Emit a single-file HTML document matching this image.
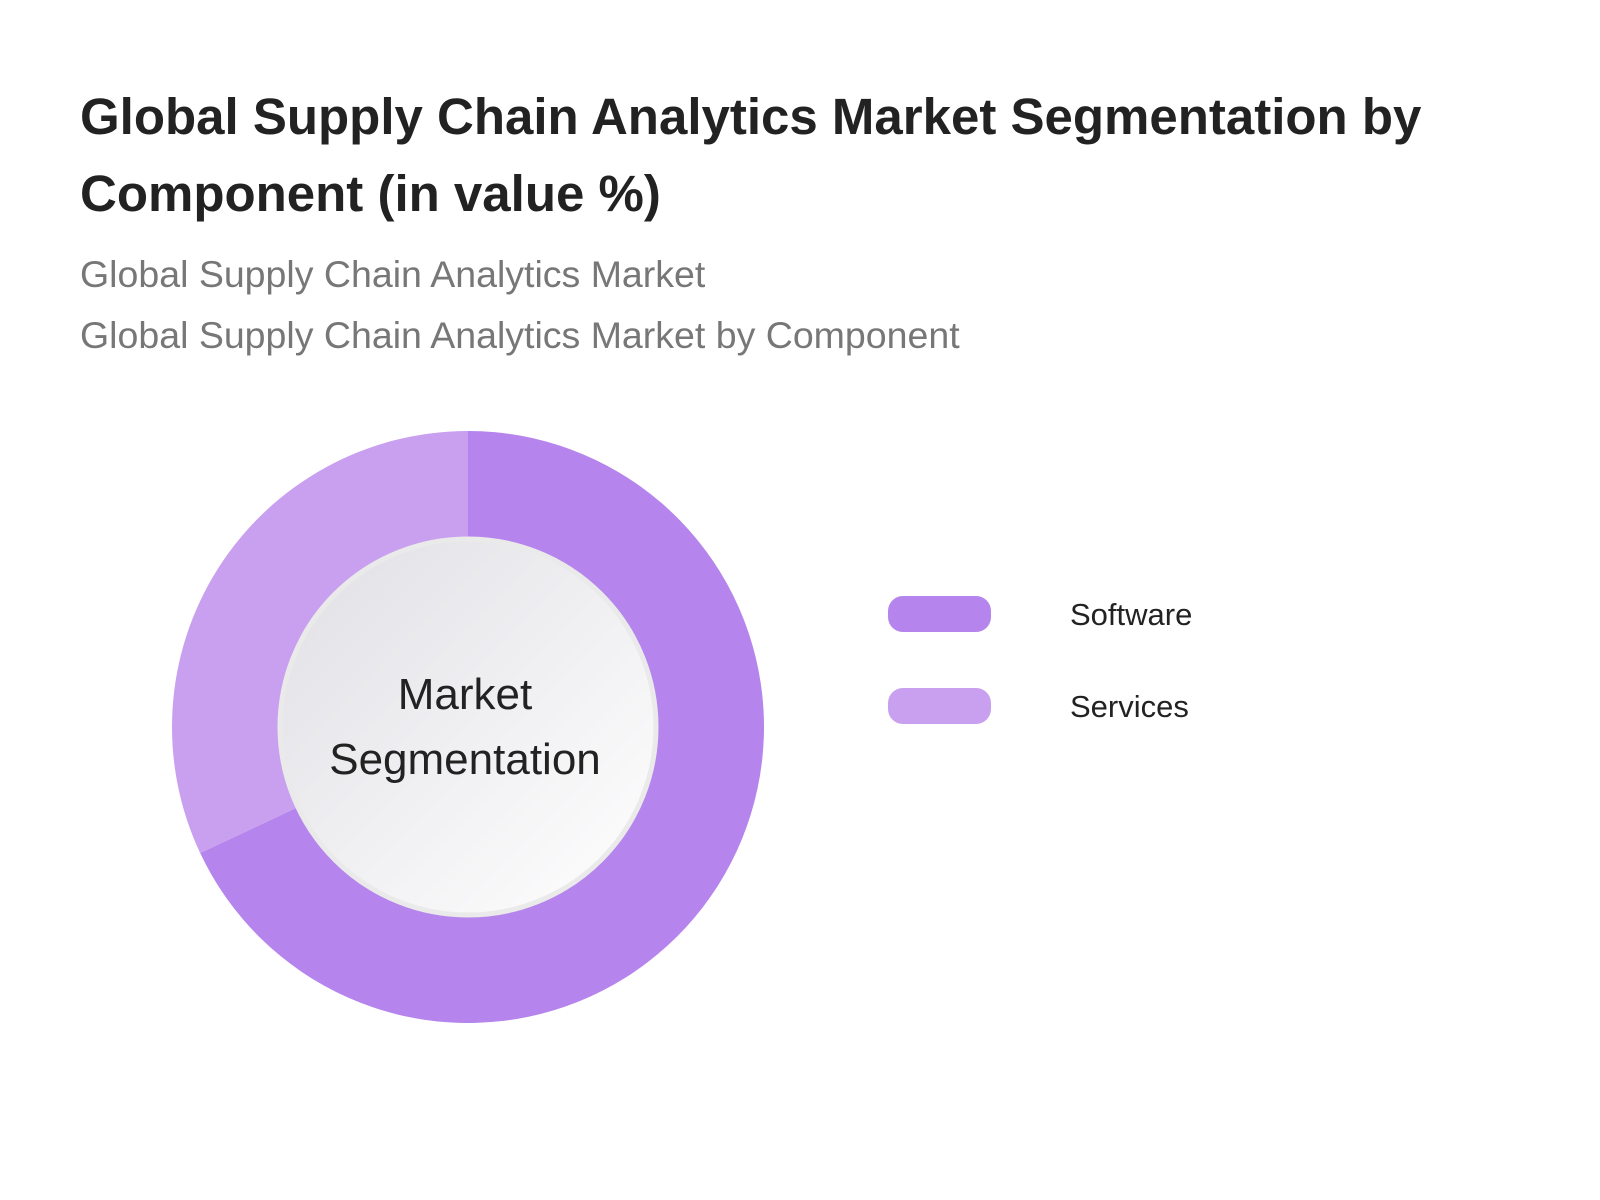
<!DOCTYPE html>
<html><head><meta charset="utf-8"><style>
body{margin:0;width:1600px;height:1200px;background:#fff;font-family:"Liberation Sans",sans-serif;overflow:hidden}
.t{position:absolute;left:80px;top:78px;width:1450px;font-size:51px;font-weight:bold;color:#222;line-height:77px}
.s{position:absolute;left:80px;font-size:37.5px;color:#777}
</style></head><body>
<div class="t">Global Supply Chain Analytics Market Segmentation by Component (in value %)</div>
<div class="s" style="top:253px">Global Supply Chain Analytics Market</div>
<div class="s" style="top:314px">Global Supply Chain Analytics Market by Component</div>
<svg id="c" width="1600" height="1200" style="position:absolute;left:0;top:0">
<defs><linearGradient id="g" x1="0" y1="0" x2="1" y2="1"><stop offset="0" stop-color="#e0dfe4"/><stop offset="1" stop-color="#ffffff"/></linearGradient></defs>
</svg>
<script>
const categories=["Software","Services"];
const values=[68,32];
const colors=["#b584ec","#c9a0ef"];
const svg=document.getElementById('c');const NS='http://www.w3.org/2000/svg';
const cx=468,cy=727,R=296,ri=188;
const total=values.reduce((a,b)=>a+b,0);
function pt(a,r){return [cx+r*Math.sin(a),cy-r*Math.cos(a)];}
let a0=0;
values.forEach((v,i)=>{
 const a1=a0+v/total*2*Math.PI;const p0=pt(a0,R),p1=pt(a1,R);
 const p=document.createElementNS(NS,'path');
 p.setAttribute('d',`M${cx},${cy}L${p0[0]},${p0[1]}A${R},${R} 0 ${a1-a0>Math.PI?1:0} 1 ${p1[0]},${p1[1]}Z`);
 p.setAttribute('fill',colors[i]);
 
 
 svg.appendChild(p);a0=a1;
});
const c=document.createElementNS(NS,'circle');c.setAttribute('cx',cx);c.setAttribute('cy',cy);c.setAttribute('r',ri);c.setAttribute('fill','url(#g)');c.setAttribute('stroke','#eaeaea');c.setAttribute('stroke-width','5');


svg.appendChild(c);
[["Market",697],["Segmentation",762]].forEach(([t,y])=>{const e=document.createElementNS(NS,'text');e.setAttribute('x',cx-3);e.setAttribute('y',y+12);e.setAttribute('text-anchor','middle');e.setAttribute('font-size','44');e.setAttribute('fill','#222');e.setAttribute('font-family','Liberation Sans, sans-serif');e.textContent=t;


svg.appendChild(e);});
categories.forEach((k,i)=>{const y=614+i*92;
 const r=document.createElementNS(NS,'rect');r.setAttribute('x',888);r.setAttribute('y',y-18);r.setAttribute('width',103);r.setAttribute('height',36);r.setAttribute('rx',15);r.setAttribute('fill',colors[i]);
 
 
 svg.appendChild(r);
 const t=document.createElementNS(NS,'text');t.setAttribute('x',1070);t.setAttribute('y',y+11);t.setAttribute('font-size','31');t.setAttribute('fill','#222');t.setAttribute('font-family','Liberation Sans, sans-serif');t.textContent=k;
 
 
 svg.appendChild(t);});
</script>
</body></html>
